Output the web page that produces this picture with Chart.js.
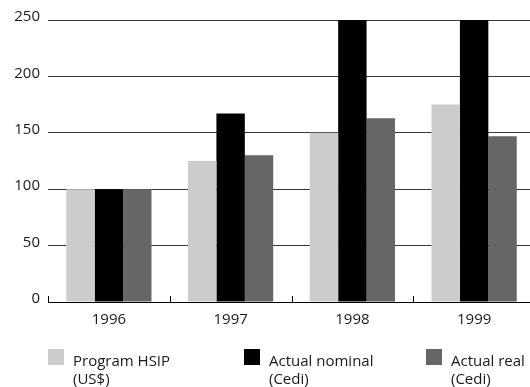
<!DOCTYPE html>
<html>
<head>
<meta charset="utf-8">
<script src="https://cdn.jsdelivr.net/npm/chart.js@4/dist/chart.umd.min.js"></script>
<style>
  html, body { margin: 0; padding: 0; background: #fff; overflow: hidden; }
  #wrap { width: 540px; height: 387px; }
</style>
</head>
<body>
<div id="wrap"><canvas id="c" width="540" height="387"></canvas></div>
<script>
// Index of spending, 1996 = 100
const years = ['1996', '1997', '1998', '1999'];
const programHSIP = [100, 125, 150, 175];     // Program HSIP (US$)
const actualNominal = [100, 167, 275, 330];   // Actual nominal (Cedi) – last two run past the axis top
const actualReal = [100, 130, 163, 147];      // Actual real (Cedi)
const yTicks = [0, 50, 100, 150, 200, 250];

const seriesNames = [['Program HSIP', '(US$)'], ['Actual nominal', '(Cedi)'], ['Actual real', '(Cedi)']];
const seriesColors = ['#cccccc', '#000000', '#666666'];

const FONT = '"Open Sans", "DejaVu Sans", sans-serif';

// Short upward marks on the category axis at each category boundary
const boundaryTicks = {
  id: 'boundaryTicks',
  afterDatasetsDraw(chart) {
    const x = chart.scales.x;
    const n = chart.data.labels.length;
    const step = x.width / n;
    const ctx = chart.ctx;
    ctx.save();
    ctx.strokeStyle = '#000';
    ctx.lineWidth = 1;
    for (let i = 0; i <= n; i++) {
      const px = Math.round(x.getPixelForValue(i) - step / 2) + 0.5;
      ctx.beginPath();
      ctx.moveTo(px, x.top - 6);
      ctx.lineTo(px, x.top);
      ctx.stroke();
    }
    ctx.restore();
  }
};

// Legend below the plot with two-line labels
const bottomLegend = {
  id: 'bottomLegend',
  afterDraw(chart, args, opts) {
    const ctx = chart.ctx;
    ctx.save();
    ctx.font = '15px ' + FONT;
    ctx.textBaseline = 'alphabetic';
    ctx.textAlign = 'left';
    chart.data.datasets.forEach((ds, i) => {
      const bx = opts.xs[i];
      ctx.fillStyle = ds.backgroundColor;
      ctx.fillRect(bx, opts.boxTop, opts.boxSize, opts.boxSize);
      ctx.fillStyle = '#1a1a1a';
      ds.label.forEach((line, j) => {
        ctx.fillText(line, bx + opts.textGap, opts.firstBaseline + j * opts.lineHeight);
      });
    });
    ctx.restore();
  }
};

new Chart(document.getElementById('c'), {
  type: 'bar',
  data: {
    labels: years,
    datasets: [programHSIP, actualNominal, actualReal].map((vals, i) => ({
      label: seriesNames[i],
      data: vals,
      backgroundColor: seriesColors[i],
      borderWidth: 0,
      barPercentage: 1,
      categoryPercentage: 0.7,
      clip: 0
    }))
  },
  options: {
    responsive: false,
    animation: false,
    layout: { padding: { left: 0, right: 5, top: 20, bottom: 45 } },
    plugins: {
      legend: { display: false },
      tooltip: { enabled: false },
      bottomLegend: {
        xs: [48, 244, 426],
        boxTop: 349,
        boxSize: 16,
        textGap: 25,
        firstBaseline: 366,
        lineHeight: 18
      }
    },
    scales: {
      x: {
        grid: { display: false, drawTicks: false },
        border: { display: true, color: '#000', width: 1 },
        ticks: { font: { family: FONT, size: 15 }, color: '#1a1a1a', padding: 9 },
        afterFit(scale) { scale.height = 40; }
      },
      y: {
        min: 0,
        max: 250,
        afterBuildTicks(scale) { scale.ticks = yTicks.map(v => ({ value: v })); },
        grid: { color: '#3a3a3a', lineWidth: 1, drawTicks: false },
        border: { display: false },
        ticks: { font: { family: FONT, size: 15 }, color: '#1a1a1a', padding: 8, labelOffset: -3 },
        afterFit(scale) { scale.width = 48; }
      }
    }
  },
  plugins: [boundaryTicks, bottomLegend]
});
</script>
</body>
</html>
